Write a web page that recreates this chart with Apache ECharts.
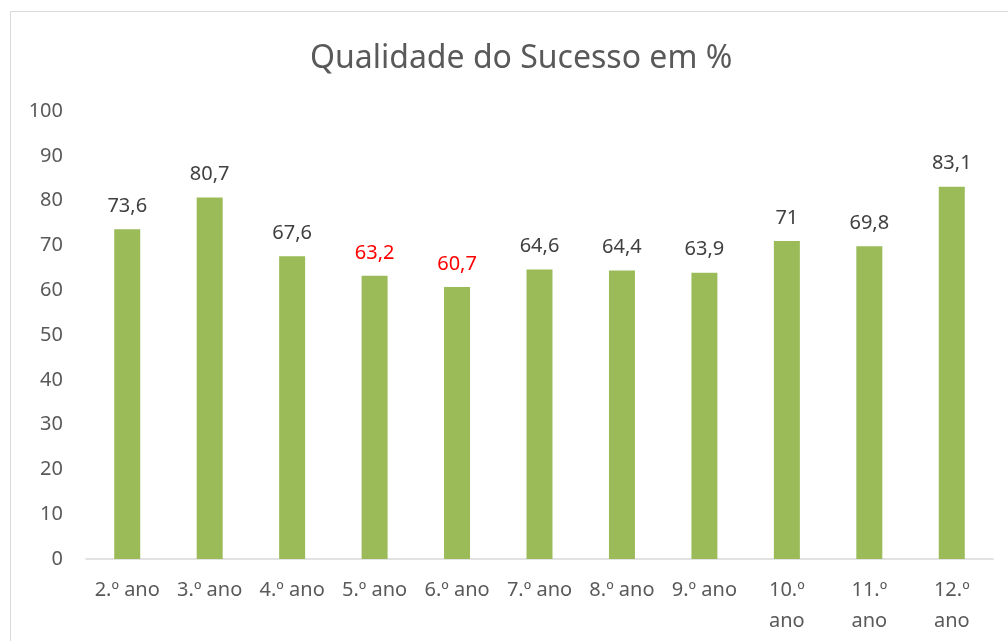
<!DOCTYPE html>
<html>
<head>
<meta charset="utf-8">
<script src="https://cdn.jsdelivr.net/npm/echarts@6/dist/echarts.min.js"></script>
<style>
  html, body { margin: 0; padding: 0; background: #fff; }
  #main { width: 1008px; height: 641px; }
</style>
</head>
<body>
<div id="main"></div>
<script>
var categories = ['2.º ano', '3.º ano', '4.º ano', '5.º ano', '6.º ano', '7.º ano', '8.º ano', '9.º ano', '10.º ano', '11.º ano', '12.º ano'];
var values = [73.6, 80.7, 67.6, 63.2, 60.7, 64.6, 64.4, 63.9, 71, 69.8, 83.1];
var redLabels = ['5.º ano', '6.º ano'];

var chart = echarts.init(document.getElementById('main'));

var seriesData = values.map(function (v, i) {
    var item = { value: v };
    if (redLabels.indexOf(categories[i]) >= 0) {
        item.label = { color: '#FF0000' };
    }
    return item;
});

var option = {
    backgroundColor: '#fff',
    textStyle: { fontFamily: 'Noto Sans' },
    graphic: [{
        type: 'rect',
        shape: { x: 10.5, y: 11.5, width: 1010, height: 640 },
        style: { fill: 'none', stroke: '#D9D9D9', lineWidth: 1 }
    }],
    title: {
        text: 'Qualidade do Sucesso em %',
        left: 305,
        top: 38,
        textStyle: { color: '#595959', fontSize: 32, fontWeight: 'normal', fontFamily: 'Noto Sans' }
    },
    grid: { left: 86, right: 15, top: 111, bottom: 82 },
    xAxis: {
        type: 'category',
        data: categories,
        axisLine: { lineStyle: { color: '#D9D9D9', width: 1.5 } },
        axisTick: { show: false },
        axisLabel: {
            color: '#595959',
            fontSize: 20,
            margin: 16,
            lineHeight: 31,
            interval: 0,
            formatter: function (s) {
                return s.length > 7 ? s.replace(' ', '\n') : s;
            }
        }
    },
    yAxis: {
        type: 'value',
        min: 0,
        max: 100,
        interval: 10,
        axisLine: { show: false },
        axisTick: { show: false },
        splitLine: { show: false },
        axisLabel: { color: '#595959', fontSize: 20, margin: 23 }
    },
    series: [{
        type: 'bar',
        data: seriesData,
        barWidth: 26,
        itemStyle: { color: '#9BBB59' },
        label: {
            show: true,
            position: 'top',
            distance: 13,
            color: '#404040',
            fontSize: 20,
            formatter: function (p) {
                return String(p.value).replace('.', ',');
            }
        }
    }]
};

chart.setOption(option);
window.addEventListener('resize', function () {
    chart.resize();
});
</script>
</body>
</html>
